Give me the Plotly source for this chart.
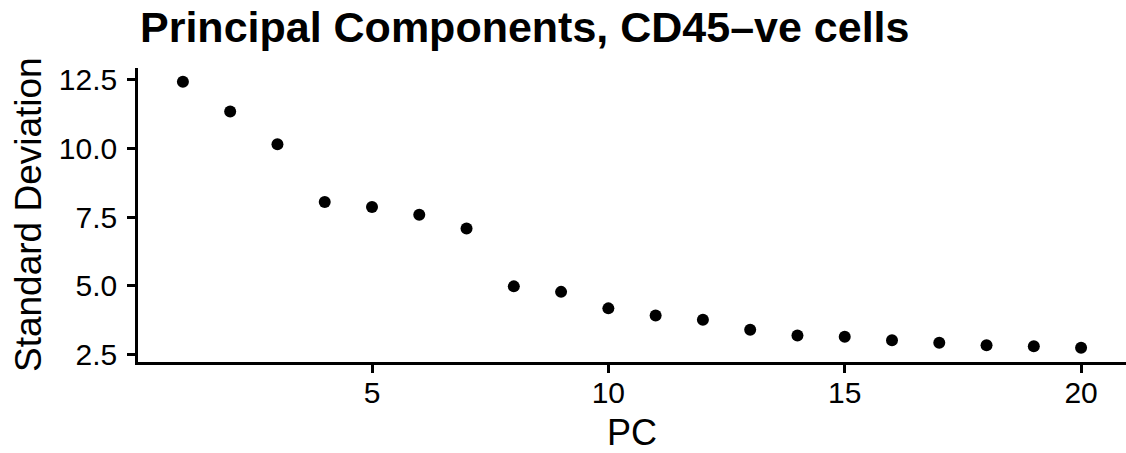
import plotly.graph_objects as go

pc = list(range(1, 21))
std_dev = [12.42, 11.34, 10.15, 8.05, 7.87, 7.58, 7.08, 4.98, 4.78, 4.18,
           3.92, 3.77, 3.40, 3.19, 3.15, 3.02, 2.93, 2.84, 2.80, 2.75]
x_ticks = [5, 10, 15, 20]
y_ticks = [2.5, 5.0, 7.5, 10.0, 12.5]
y_tick_labels = ["2.5", "5.0", "7.5", "10.0", "12.5"]

FONT = "Liberation Sans, Arial, Helvetica, sans-serif"
W, H = 1126, 453
L, R, T, B = 138, 0, 68, 91
PW, PH = W - L - R, H - T - B

fig = go.Figure(go.Scatter(
    x=pc, y=std_dev, mode="markers",
    marker=dict(color="black", size=12),
    showlegend=False,
))

fig.update_layout(
    width=W, height=H,
    margin=dict(l=L, r=R, t=T, b=B, autoexpand=False),
    paper_bgcolor="white", plot_bgcolor="white",
    font=dict(family=FONT, color="black"),
    title=dict(text="<b>Principal Components, CD45\u2013ve cells</b>",
               font=dict(size=43, family=FONT, color="black"),
               x=140/W, xanchor="left", xref="container",
               y=1 - 27/H, yanchor="middle", yref="container"),
    annotations=[
        dict(text="PC", xref="paper", yref="paper", x=0.5, y=-(432 - (H - B)) / PH,
             xanchor="center", yanchor="middle", showarrow=False,
             font=dict(size=36, family=FONT, color="black")),
        dict(text="Standard Deviation", xref="paper", yref="paper",
             x=(28 - L) / PW, y=0.5, textangle=-90,
             xanchor="center", yanchor="middle", showarrow=False,
             font=dict(size=37, family=FONT, color="black")),
    ],
)
fig.update_xaxes(
    range=[0.05, 20.95], tickvals=x_ticks, ticktext=[str(v) for v in x_ticks],
    automargin=False, ticklabelstandoff=-6,
    showgrid=False, zeroline=False, showline=True, linecolor="black", linewidth=2.5,
    ticks="outside", ticklen=8, tickwidth=2.5, tickcolor="black",
    tickfont=dict(size=30, family=FONT, color="black"),
)
fig.update_yaxes(
    range=[2.23, 12.92], tickvals=y_ticks, ticktext=y_tick_labels,
    automargin=False, ticklabelstandoff=4,
    showgrid=False, zeroline=False, showline=True, linecolor="black", linewidth=2.5,
    ticks="outside", ticklen=8, tickwidth=2.5, tickcolor="black",
    tickfont=dict(size=30, family=FONT, color="black"),
)

fig.write_html("out.html", config={"displayModeBar": False},
               post_script="document.body.style.margin='0';")
